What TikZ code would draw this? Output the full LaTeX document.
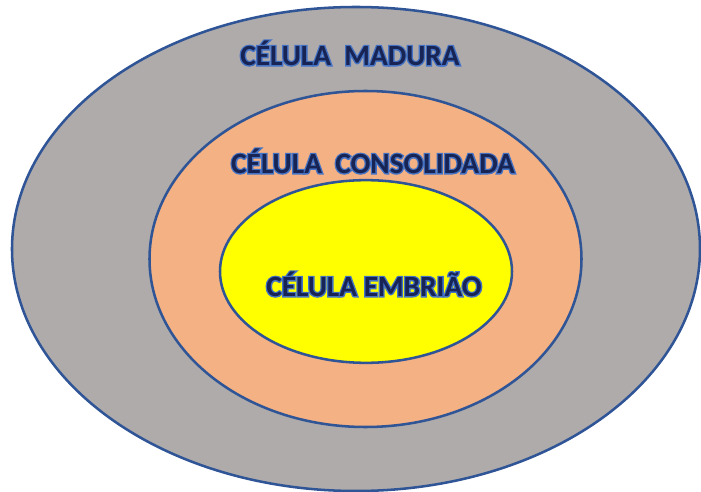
\documentclass[tikz,border=0pt]{standalone}
\usepackage{fontspec}
\setmainfont{Carlito}
\newfontfamily\glowfont[FakeBold=9]{Carlito}
\usetikzlibrary{shapes.geometric, positioning, calc}
\definecolor{cellgray}{RGB}{175,171,171}
\definecolor{cellorange}{RGB}{244,177,131}
\definecolor{cellyellow}{RGB}{255,255,0}
\definecolor{cellborder}{RGB}{47,85,151}
\definecolor{textnavy}{RGB}{24,36,84}
\definecolor{textglow}{RGB}{68,114,196}
\tikzset{%
	cell/.style={draw=cellborder, line width=1.9pt, ellipse, inner sep=0mm},
	celltext/.style={font=\bfseries\fontsize{22}{26}\selectfont, text=textnavy, inner sep=0mm},
	glow/.style={font=\glowfont\bfseries\fontsize{22}{26}\selectfont, text=textglow, inner sep=0mm}
}
% text with a blue halo
\newcommand{\cellname}[3]{%
	\node[glow] at (#2) {#3};
	\node[celltext] (#1) at (#2) {#3};
}

\begin{document}
\begin{tikzpicture}[x=0.75pt, y=-0.75pt]
	\useasboundingbox (0,0) rectangle (701,492);
	\node[cell, fill=cellgray, minimum width=516pt, minimum height=363pt] (madura-cell) at (356,249) {};
	\node[cell, fill=cellorange, minimum width=324pt, minimum height=252pt] (consolidada-cell) at (365.5,259) {};
	\node[cell, fill=cellyellow, minimum width=219pt, minimum height=137pt] (embriao-cell) at (366,271.5) {};
	\coordinate (p-madura) at (350,53);
	\coordinate (p-consolidada) at (373,161);
	\coordinate (p-embriao) at (374,284);
	\cellname{madura}{p-madura}{CÉLULA\ \ MADURA}
	\cellname{consolidada}{p-consolidada}{CÉLULA\ \ CONSOLIDADA}
	\cellname{embriao}{p-embriao}{CÉLULA EMBRIÃO}
\end{tikzpicture}
\end{document}
